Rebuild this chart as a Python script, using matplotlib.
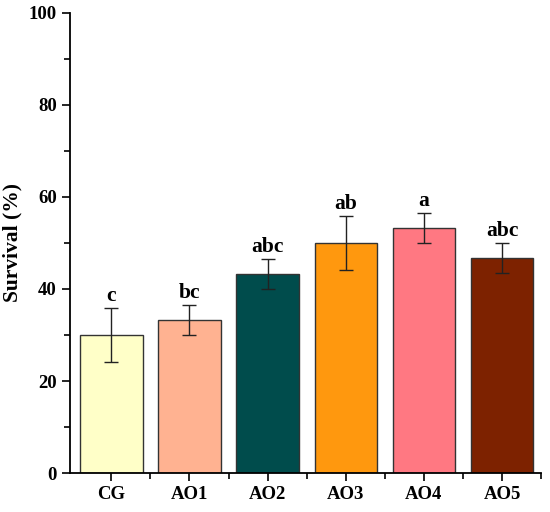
import matplotlib
matplotlib.use("Agg")
import matplotlib.pyplot as plt
from matplotlib.ticker import MultipleLocator, FixedLocator

plt.rcParams['font.family'] = ['Liberation Serif', 'DejaVu Serif']
plt.rcParams['font.weight'] = 'bold'

groups = ["CG", "AO1", "AO2", "AO3", "AO4", "AO5"]
survival = [30.0, 33.3, 43.3, 50.0, 53.3, 46.7]
errors = [5.8, 3.3, 3.3, 5.8, 3.3, 3.3]
letters = ["c", "bc", "abc", "ab", "a", "abc"]
colors = ["#FFFFC8", "#FFB291", "#004C4C", "#FF980E", "#FF7882", "#7D2200"]

fig = plt.figure(figsize=(5.5, 5.12), dpi=100)
ax = fig.add_axes([0.127, 0.076, 0.857, 0.899])

x = list(range(len(groups)))
ax.bar(x, survival, width=0.8, color=colors, edgecolor="#333333", linewidth=1.0,
       yerr=errors, capsize=5, error_kw=dict(elinewidth=1.0, capthick=1.0, ecolor="#222222"))

for i in x:
    ax.text(i, survival[i] + errors[i] + 0.4, letters[i], ha="center", va="bottom",
            fontsize=15.5, fontweight="bold")

ax.set_xlim(-0.53, 5.5)
ax.set_ylim(0, 100)
ax.set_xticks(x)
ax.set_xticklabels(groups, fontsize=13.5, fontweight="bold")
ax.xaxis.set_minor_locator(FixedLocator([i + 0.5 for i in x]))
ax.yaxis.set_major_locator(MultipleLocator(20))
ax.yaxis.set_minor_locator(MultipleLocator(10))
ax.tick_params(axis="y", labelsize=13.5)
ax.tick_params(which="major", direction="out", length=6, width=1.2)
ax.tick_params(which="minor", direction="out", length=4, width=1.2)
for lab in ax.get_yticklabels():
    lab.set_fontweight("bold")

ax.set_ylabel("Survival (%)", fontsize=15.5, fontweight="bold", labelpad=4)
ax.spines["top"].set_visible(False)
ax.spines["right"].set_visible(False)
ax.spines["left"].set_linewidth(1.3)
ax.spines["bottom"].set_linewidth(1.3)

plt.savefig("out.png", dpi=100)
